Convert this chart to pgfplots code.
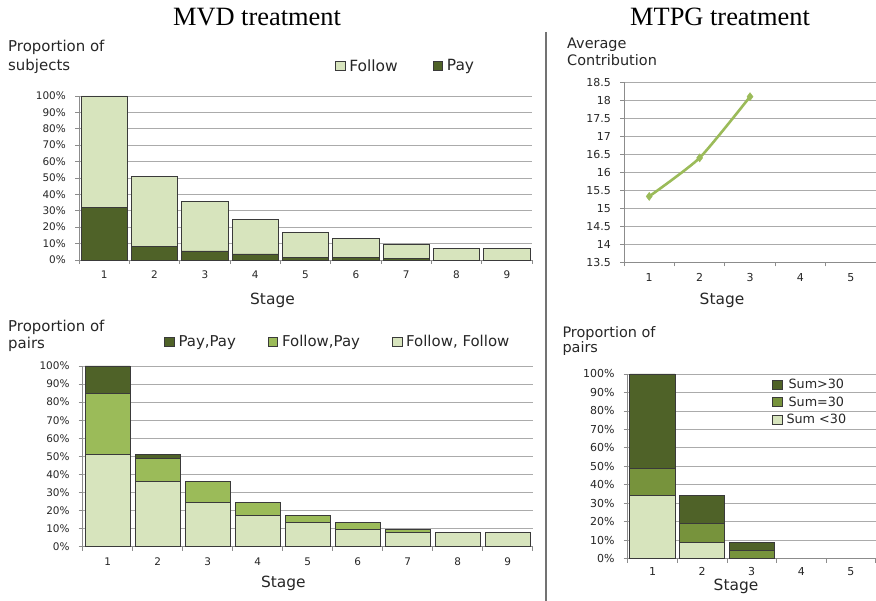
\documentclass[border=0pt]{standalone}
\usepackage{pgfplots}
\pgfplotsset{compat=1.18}
\usepackage{fontspec}
\setmainfont{DejaVu Sans}
\newfontfamily\titlefont{Liberation Serif}
\definecolor{lightg}{HTML}{D7E4BD}
\definecolor{darkg}{HTML}{4F6228}
\definecolor{midg}{HTML}{9BBB59}
\definecolor{midgb}{HTML}{77933C}
\definecolor{gridc}{HTML}{ABABAB}
\definecolor{axisc}{HTML}{8C8C8C}
\definecolor{txt}{HTML}{262626}
\definecolor{barline}{HTML}{3A3A3A}

\pgfplotsset{
  excel/.style={
    scale only axis,
    axis x line*=bottom, axis y line*=left,
    axis line style={axisc, line width=0.8bp},
    ymajorgrids, major grid style={gridc, line width=0.8bp},
    tick align=outside,
    major tick length=4bp, minor tick length=4bp,
    ytick style={axisc, line width=0.8bp},
    major x tick style={draw=none},
    minor x tick style={axisc, line width=0.8bp},
    yticklabel style={font=\fontsize{10.5}{12}\selectfont, anchor=east, inner sep=0pt, xshift=-9bp, text=txt},
    xticklabel style={font=\fontsize{10.5}{12}\selectfont, anchor=center, inner sep=0pt, yshift=-11bp, text=txt},
    clip=false,
  },
  pct/.style={
    ymin=0, ymax=100, ytick={0,10,...,100},
    yticklabels={0\%,10\%,20\%,30\%,40\%,50\%,60\%,70\%,80\%,90\%,100\%},
  },
  sqlegend/.style={
    legend image code/.code={\draw[##1, line width=0.6bp] (0bp,-4.5bp) rectangle (9.5bp,4.5bp);},
  },
  barsty/.style={draw=barline, line width=0.7bp, fill=#1},
}

\begin{document}
\begin{tikzpicture}[x=1bp, y=1bp]
\path[use as bounding box] (0,0) rectangle (876,601);

% Titles
\node[anchor=base, inner sep=0pt, text=black] at (257,575) {\titlefont\fontsize{26.5}{30}\selectfont MVD treatment};
\node[anchor=base, inner sep=0pt, text=black] at (720,575) {\titlefont\fontsize{26.5}{30}\selectfont MTPG treatment};

% separator
\draw[color=black!55, line width=1.3bp] (546,569) -- (546,0);

% Labels
\begin{scope}[every node/.style={anchor=base west, inner sep=0pt, text=txt, font=\fontsize{15}{18}\selectfont}]
\node at (8,549) {Proportion of};
\node at (8,530) {subjects};
\node at (8,269.3) {Proportion of};
\node at (8,252) {pairs};
\end{scope}
\begin{scope}[every node/.style={anchor=base west, inner sep=0pt, text=txt, font=\fontsize{14.5}{17}\selectfont}]
\node at (567,552.7) {Average};
\node at (567,535) {Contribution};
\node at (562.3,263.7) {Proportion of};
\node at (562.3,248) {pairs};
\end{scope}
\begin{scope}[every node/.style={anchor=base, inner sep=0pt, text=txt, font=\fontsize{15.5}{18}\selectfont}]
\node at (272.5,296) {Stage};
\node at (283.4,13) {Stage};
\node at (722,296) {Stage};
\node at (736,10.5) {Stage};
\end{scope}

% Top-left: proportion of subjects
\begin{axis}[excel, pct,
  at={(79bp,341bp)}, anchor=south west, width=453bp, height=164bp,
  ybar stacked, bar width=0.92,
  xmin=0.5, xmax=9.5, xtick={1,...,9}, xticklabels={1,2,3,4,5,6,7,8,9},
  minor xtick={0.5,1.5,...,9.5},
  sqlegend, reverse legend,
  legend style={at={(0.72,1.183)}, anchor=center, draw=none, fill=none,
    legend columns=2, font=\fontsize{15.5}{18}\selectfont, text=txt,
    /tikz/every odd column/.append style={column sep=3bp},
    /tikz/every even column/.append style={column sep=34bp},
    nodes={inner sep=1bp}},
]
\addplot[barsty=darkg] coordinates {(1,32) (2,8.5) (3,5.5) (4,3.7) (5,1.7) (6,1.7) (7,0.8) (8,0) (9,0)};
\addplot[barsty=lightg] coordinates {(1,68) (2,42.5) (3,30.3) (4,20.9) (5,15.2) (6,11.3) (7,8.5) (8,7.2) (9,7.2)};
\legend{Pay,Follow}
\end{axis}

% Bottom-left: proportion of pairs
\begin{axis}[excel, pct,
  at={(82.7bp,54.3bp)}, anchor=south west, width=450bp, height=180.7bp,
  ybar stacked, bar width=0.9,
  xmin=0.5, xmax=9.5, xtick={1,...,9}, xticklabels={1,2,3,4,5,6,7,8,9},
  minor xtick={0.5,1.5,...,9.5},
  sqlegend, reverse legend,
  legend style={at={(0.566,1.134)}, anchor=center, draw=none, fill=none,
    legend columns=3, font=\fontsize{15}{18}\selectfont, text=txt,
    /tikz/every odd column/.append style={column sep=3bp},
    /tikz/every even column/.append style={column sep=31bp},
    nodes={inner sep=1bp}},
]
\addplot[barsty=lightg] coordinates {(1,51) (2,36) (3,24.5) (4,17.2) (5,13.3) (6,9.6) (7,8) (8,7.8) (9,7.8)};
\addplot[barsty=midg] coordinates {(1,34) (2,12.7) (3,11.5) (4,7.4) (5,3.9) (6,3.7) (7,1.4) (8,0) (9,0)};
\addplot[barsty=darkg] coordinates {(1,15) (2,2.3) (3,0) (4,0) (5,0) (6,0) (7,0) (8,0) (9,0)};
\legend{{Follow, Follow},{Follow,Pay},{Pay,Pay}}
\end{axis}

% Top-right: average contribution
\begin{axis}[excel,
  at={(624bp,338.7bp)}, anchor=south west, width=252bp, height=180bp,
  xmin=0.5, xmax=5.5, xtick={1,...,5}, xticklabels={1,2,3,4,5},
  minor xtick={0.5,1.5,...,5.5},
  ymin=13.5, ymax=18.5, ytick={13.5,14,...,18.5},
  yticklabels={13.5,14,14.5,15,15.5,16,16.5,17,17.5,18,18.5},
  yticklabel style={font=\fontsize{11}{13}\selectfont},
  xticklabel style={font=\fontsize{11}{13}\selectfont},
]
\addplot[color=midg, line width=2.6bp, smooth, tension=0.35, mark=diamond*, mark size=4bp,
  mark options={fill=midg, draw=midg, line width=0.5bp}] coordinates {(1,15.33) (2,16.4) (3,18.1)};
\end{axis}

% Bottom-right: proportion of pairs MTPG
\begin{axis}[excel, pct,
  at={(627.7bp,42.3bp)}, anchor=south west, width=248bp, height=184.7bp,
  ybar stacked, bar width=0.915,
  xmin=0.5, xmax=5.5, xtick={1,...,5}, xticklabels={1,2,3,4,5},
  minor xtick={0.5,1.5,...,5.5},
  yticklabel style={font=\fontsize{11}{13}\selectfont},
  xticklabel style={font=\fontsize{11}{13}\selectfont, yshift=2bp},
  sqlegend, reverse legend,
  legend style={at={(0.57,0.989)}, anchor=north west, draw=none, fill=none,
    legend columns=1, font=\fontsize{12.8}{15}\selectfont, text=txt,
    /tikz/every odd column/.append style={column sep=3bp},
    row sep=4bp, nodes={inner sep=1.2bp}},
]
\addplot[barsty=lightg] coordinates {(1,34.3) (2,8.7) (3,0)};
\addplot[barsty=midgb] coordinates {(1,14.4) (2,10.5) (3,4.7)};
\addplot[barsty=darkg] coordinates {(1,51.3) (2,15.1) (3,4.0)};
\legend{{Sum <30},{Sum=30},{Sum>30}}
\end{axis}
\end{tikzpicture}
\end{document}
